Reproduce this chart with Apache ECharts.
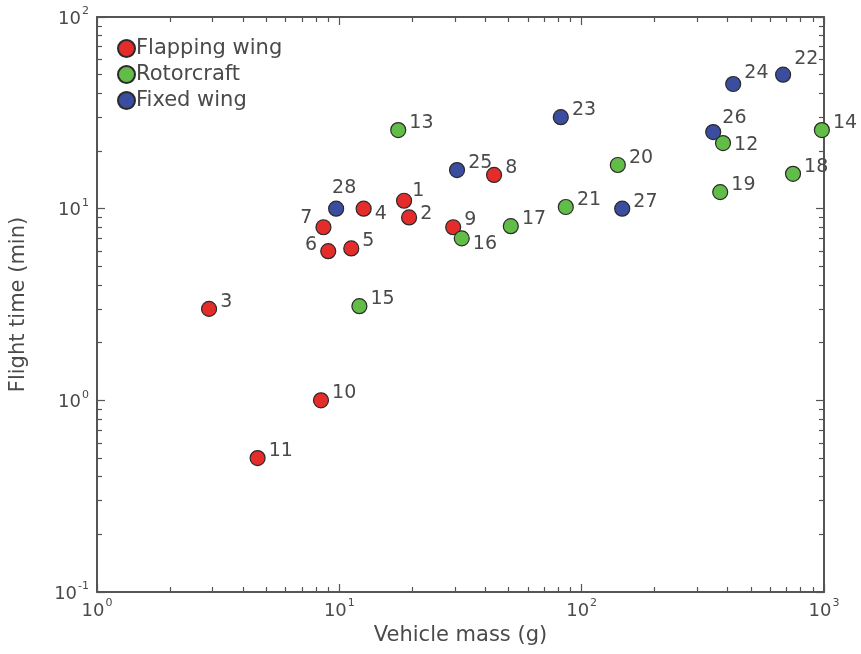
<!DOCTYPE html>
<html>
<head>
<meta charset="utf-8">
<script src="https://cdn.jsdelivr.net/npm/echarts@6/dist/echarts.min.js"></script>
<style>html,body{margin:0;padding:0;background:#fff}#c{width:861px;height:654px}</style>
</head>
<body>
<div id="c"></div>
<script>
// Data (mass in g, flight time in min, id label)
const flapIds  = [1, 2, 3, 4, 5, 6, 7, 8, 9, 10, 11];
const flapMass = [18.5, 19.4, 2.9, 12.6, 11.2, 9.0, 8.6, 43.5, 29.5, 8.4, 4.6];
const flapTime = [11, 9, 3, 10, 6.2, 6.0, 8.0, 15, 8.0, 1.0, 0.5];

const rotorIds  = [12, 13, 14, 15, 16, 17, 18, 19, 20, 21];
const rotorMass = [383, 17.5, 980, 12.1, 32, 51, 745, 373, 141, 86];
const rotorTime = [22, 25.7, 25.7, 3.1, 7.0, 8.1, 15.2, 12.2, 16.9, 10.2];

const fixedIds  = [22, 23, 24, 25, 26, 27, 28];
const fixedMass = [678, 82, 422, 30.6, 349, 147, 9.7];
const fixedTime = [50, 30, 44.7, 15.9, 25.1, 10, 10];

const seriesNames = ['Flapping wing', 'Rotorcraft', 'Fixed wing'];
const xMajorTicks = [1, 10, 100, 1000];
const yMajorTicks = [0.1, 1, 10, 100];

// styling
const colors = ['#e42d2b', '#62bd48', '#3a4d9e'];
const textColor = '#4a4a4a';
const lineColor = '#555';
const FONT = 'DejaVu Sans';
const defaultLabel = {pos: 'right', dx: 0, dy: -7};
const labelTweaks = {
  1: {pos: 'right', dx: -3, dy: -10},
  2: {pos: 'right', dx: 0, dy: -3},
  4: {pos: 'right', dx: 0, dy: 5},
  6: {pos: 'left', dx: 0, dy: -6},
  7: {pos: 'left', dx: 0, dy: -9},
  12: {pos: 'right', dx: 0, dy: 2},
  16: {pos: 'right', dx: 0, dy: 6},
  22: {pos: 'right', dx: 0, dy: -16},
  24: {pos: 'right', dx: 0, dy: -11},
  26: {pos: 'right', dx: -2, dy: -14},
  28: {pos: 'top', dx: 8, dy: 0}
};

function minorTicks(lo, hi) {
  const out = [];
  for (let d = lo; d < hi; d *= 10) {
    for (let k = 2; k <= 9; k++) out.push(+(d * k).toPrecision(6));
  }
  return out;
}
function powLabel(v) {
  const e = Math.round(Math.log10(v));
  return '{b|10}{s|' + (e < 0 ? '-' : '') + Math.abs(e) + '}';
}
const richPow = {
  b: {fontSize: 18, color: textColor, fontFamily: FONT, lineHeight: 22, verticalAlign: 'bottom'},
  s: {fontSize: 11, color: textColor, fontFamily: FONT, lineHeight: 22, verticalAlign: 'top', padding: [0, 0, 0, 1]}
};

function buildSeries(name, ids, mass, time, color) {
  return {
    name: name,
    type: 'scatter',
    symbol: 'circle',
    symbolSize: 15,
    itemStyle: {color: color, borderColor: '#2a2a2a', borderWidth: 1.2, opacity: 1},
    data: ids.map((id, i) => {
      const t = labelTweaks[id] || defaultLabel;
      return {
        value: [mass[i], time[i]],
        name: String(id),
        label: {position: t.pos, offset: [t.dx, t.dy]}
      };
    }),
    label: {
      show: true,
      formatter: p => p.name,
      distance: 3,
      fontSize: 19,
      color: textColor,
      fontFamily: FONT
    },
    emphasis: {disabled: true}
  };
}

function xAxisDef(pos, ticks, len, showLabel, showLine) {
  return {
    type: 'log', logBase: 10, min: 1, max: 1000, position: pos,
    axisLine: {show: showLine, onZero: false, lineStyle: {color: lineColor, width: 2}},
    axisTick: {show: true, inside: true, length: len, customValues: ticks, lineStyle: {color: lineColor, width: 1.2}},
    axisLabel: showLabel ? {show: true, customValues: xMajorTicks, formatter: powLabel, rich: richPow, margin: 6} : {show: false},
    splitLine: {show: false},
    name: showLabel ? 'Vehicle mass (g)' : '',
    nameLocation: 'middle',
    nameGap: 31,
    nameTextStyle: {fontSize: 21, color: textColor, fontFamily: FONT}
  };
}
function yAxisDef(pos, ticks, len, showLabel, showLine) {
  return {
    type: 'log', logBase: 10, min: 0.1, max: 100, position: pos,
    axisLine: {show: showLine, onZero: false, lineStyle: {color: lineColor, width: 2}},
    axisTick: {show: true, inside: true, length: len, customValues: ticks, lineStyle: {color: lineColor, width: 1.2}},
    axisLabel: showLabel ? {show: true, customValues: yMajorTicks, formatter: powLabel, rich: richPow, margin: 8} : {show: false},
    splitLine: {show: false},
    name: showLabel ? 'Flight time (min)' : '',
    nameLocation: 'middle',
    nameGap: 68,
    nameTextStyle: {fontSize: 21, color: textColor, fontFamily: FONT}
  };
}

const chart = echarts.init(document.getElementById('c'), null, {renderer: 'canvas'});
chart.setOption({
  animation: false,
  backgroundColor: '#fff',
  grid: {left: 97, right: 37, top: 17, bottom: 62, containLabel: false},
  legend: {
    orient: 'vertical', left: 112, top: 33,
    itemWidth: 17, itemHeight: 17, itemGap: 5,
    icon: 'circle',
    textStyle: {fontSize: 21, lineHeight: 17, color: textColor, fontFamily: FONT, padding: [0, 0, 0, -4]},
    data: seriesNames
  },
  xAxis: [
    xAxisDef('bottom', xMajorTicks, 8, true, true),
    xAxisDef('bottom', minorTicks(1, 1000), 5, false, false),
    xAxisDef('top', xMajorTicks, 8, false, true),
    xAxisDef('top', minorTicks(1, 1000), 5, false, false)
  ],
  yAxis: [
    yAxisDef('left', yMajorTicks, 8, true, true),
    yAxisDef('left', minorTicks(0.1, 100), 5, false, false),
    yAxisDef('right', yMajorTicks, 8, false, true),
    yAxisDef('right', minorTicks(0.1, 100), 5, false, false)
  ],
  series: [
    buildSeries(seriesNames[0], flapIds, flapMass, flapTime, colors[0]),
    buildSeries(seriesNames[1], rotorIds, rotorMass, rotorTime, colors[1]),
    buildSeries(seriesNames[2], fixedIds, fixedMass, fixedTime, colors[2])
  ]
});
</script>
</body>
</html>
